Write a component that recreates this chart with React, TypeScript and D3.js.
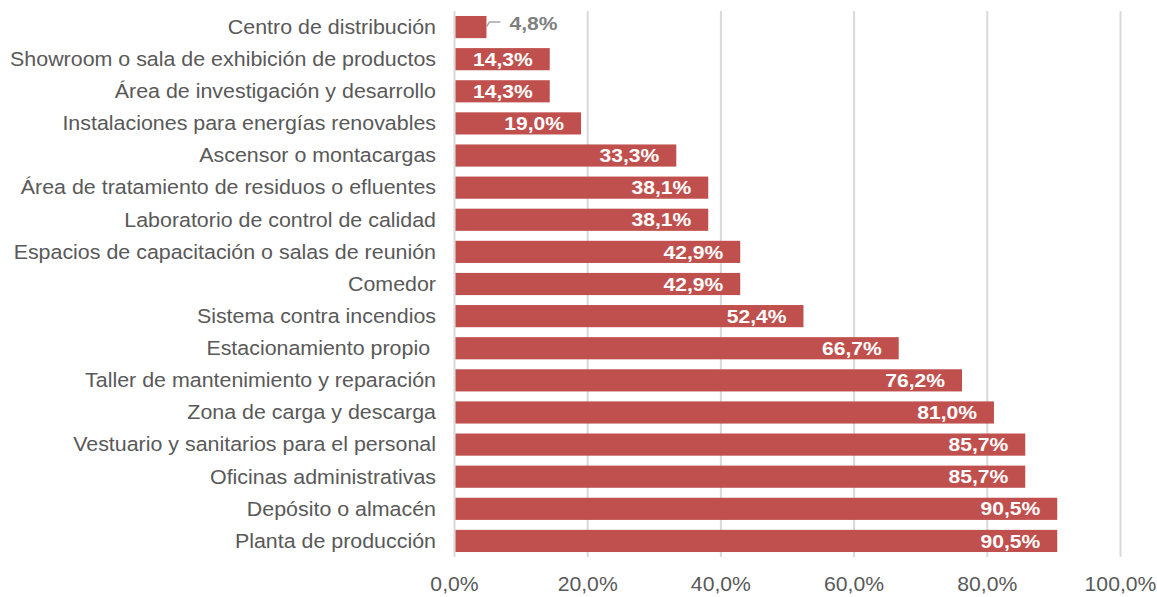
import React from "react";
import * as d3 from "d3";

const categories = [
  "Centro de distribución",
  "Showroom o sala de exhibición de productos",
  "Área de investigación y desarrollo",
  "Instalaciones para energías renovables",
  "Ascensor o montacargas",
  "Área de tratamiento de residuos o efluentes",
  "Laboratorio de control de calidad",
  "Espacios de capacitación o salas de reunión",
  "Comedor",
  "Sistema contra incendios",
  "Estacionamiento propio ",
  "Taller de mantenimiento y reparación",
  "Zona de carga y descarga",
  "Vestuario y sanitarios para el personal",
  "Oficinas administrativas",
  "Depósito o almacén",
  "Planta de producción",
];
const values = [4.8, 14.3, 14.3, 19.0, 33.3, 38.1, 38.1, 42.9, 42.9, 52.4, 66.7, 76.2, 81.0, 85.7, 85.7, 90.5, 90.5];
const ticks = [0, 20, 40, 60, 80, 100];

const W = 1157;
const H = 597;
const FONT = "'Liberation Sans', Arial, sans-serif";

export default function App() {
  const x = d3.scaleLinear().domain([0, 100]).range([454.5, 1120.5]);
  const y = d3.scaleBand<string>().domain(categories).range([11, 557]).paddingInner(0.31).paddingOuter(0.155);
  const fmt = (v: number) => v.toFixed(1).replace(".", ",") + "%";
  return (
    <svg width={W} height={H} style={{ position: "absolute", left: 0, top: 0 }} fontFamily={FONT}>
      <rect width={W} height={H} fill="#fff" />
      {ticks.map((t) => (
        <line key={t} x1={x(t)} x2={x(t)} y1={11} y2={557} stroke="#d9d9d9" strokeWidth={2} />
      ))}
      {categories.map((c, i) => {
        const v = values[i];
        const yy = y(c)!;
        const bh = y.bandwidth();
        const cy = yy + bh / 2;
        const inside = x(v) - x(0) > 60;
        return (
          <g key={c}>
            <rect x={x(0) + 1} y={yy} width={x(v) - x(0) - 1} height={bh} fill="#C0504D" />
            <text
              transform={`translate(436,${cy}) scale(1.098,1)`}
              dy="0.35em"
              textAnchor="end"
              fontSize={19.5}
              fill="#595959"
              style={{ whiteSpace: "pre" }}
            >
              {c}
            </text>
            {inside ? (
              <text
                transform={`translate(${x(v) - 17},${cy}) scale(1.11,1)`}
                dy="0.35em"
                textAnchor="end"
                fontSize={19}
                fontWeight="bold"
                fill="#fff"
              >
                {fmt(v)}
              </text>
            ) : (
              <g>
                <path
                  d={`M${x(v)},${cy - 0.5} L${x(v) + 3},${cy - 5} L${x(v) + 14},${cy - 5}`}
                  fill="none"
                  stroke="#a6a6a6"
                  strokeWidth={1.5}
                />
                <text
                  transform={`translate(${x(v) + 23},${cy - 4}) scale(1.11,1)`}
                  dy="0.35em"
                  textAnchor="start"
                  fontSize={19}
                  fontWeight="bold"
                  fill="#7f7f7f"
                >
                  {fmt(v)}
                </text>
              </g>
            )}
          </g>
        );
      })}
      {ticks.map((t) => (
        <text
          key={t}
          transform={`translate(${x(t)},591) scale(1.06,1)`}
          textAnchor="middle"
          fontSize={20}
          fill="#595959"
        >
          {t.toFixed(1).replace(".", ",") + "%"}
        </text>
      ))}
    </svg>
  );
}
